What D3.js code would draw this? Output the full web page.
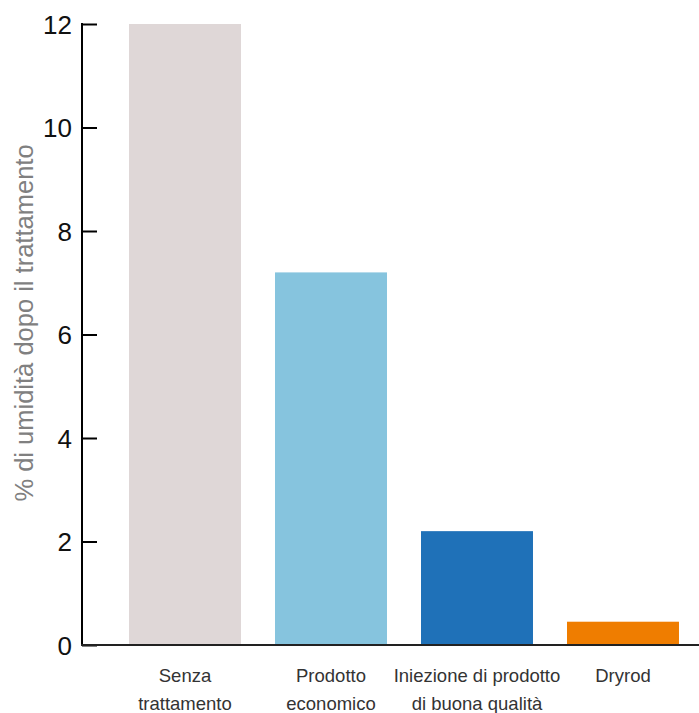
<!DOCTYPE html>
<html><head><meta charset="utf-8">
<script src="https://cdn.jsdelivr.net/npm/d3@7"></script>
<style>body{margin:0;background:#fff}svg{display:block}</style>
</head><body>
<script>
const categories = [["Senza","trattamento"],["Prodotto","economico"],["Iniezione di prodotto","di buona qualità"],["Dryrod"]];
const values = [12, 7.2, 2.2, 0.45];
const colors = ["#dfd7d7","#86c4de","#1f71b8","#ef7d00"];
const yTicks = [0,2,4,6,8,10,12];
const yTitle = "% di umidità dopo il trattamento";

const W=699,H=713;
const svg=d3.select("body").append("svg").attr("width",W).attr("height",H);
const y=d3.scaleLinear().domain([0,12]).range([645,24]);
const x=d3.scaleBand().domain(d3.range(categories.length)).range([95,713]).paddingInner(0.233).paddingOuter(0.233);

svg.selectAll("rect.bar").data(values).join("rect").attr("class","bar")
  .attr("x",(d,i)=>x(i)).attr("width",x.bandwidth())
  .attr("y",d=>y(d)).attr("height",d=>y(0)-y(d))
  .attr("fill",(d,i)=>colors[i]);

const ax=svg.append("g").attr("transform","translate(82,0)")
  .call(d3.axisRight(y).tickValues(yTicks).tickSize(15).tickFormat(d3.format("d")));
ax.select(".domain").remove();
ax.selectAll(".tick line").attr("stroke","#000").attr("stroke-width",2);
ax.selectAll(".tick text").attr("x",-10).attr("text-anchor","end").attr("dy","0.36em")
  .attr("font-family","Liberation Sans, Arial, sans-serif").attr("font-size",26).attr("fill","#111");
svg.append("line").attr("x1",82).attr("x2",82).attr("y1",y(12)-1).attr("y2",y(0)+1).attr("stroke","#000").attr("stroke-width",2);
svg.append("line").attr("x1",81).attr("x2",699).attr("y1",y(0)).attr("y2",y(0)).attr("stroke","#222").attr("stroke-width",2);

const lab=svg.selectAll("text.cat").data(categories).join("text").attr("class","cat")
  .attr("text-anchor","middle").attr("font-family","Liberation Sans, Arial, sans-serif")
  .attr("font-size",18.5).attr("fill","#333");
lab.each(function(d,i){
  const t=d3.select(this);
  d.forEach((s,j)=>t.append("tspan").attr("x",x(i)+x.bandwidth()/2).attr("y",682+j*28).text(s));
});

svg.append("text").attr("transform","translate(33,323) rotate(-90)").attr("text-anchor","middle")
  .attr("font-family","Liberation Sans, Arial, sans-serif").attr("font-size",25.5).attr("fill","#808080").text(yTitle);
</script>
</body></html>
